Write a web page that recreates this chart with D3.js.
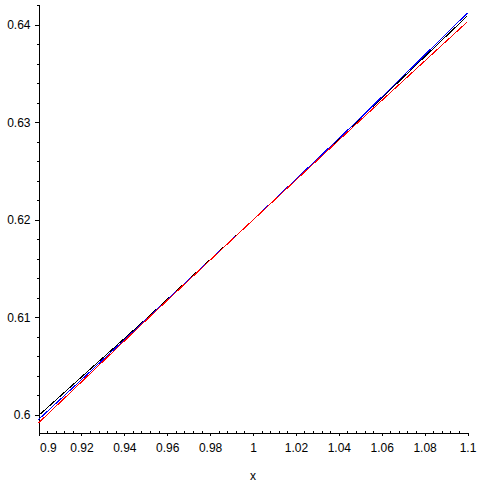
<!DOCTYPE html>
<html>
<head>
<meta charset="utf-8">
<script src="https://cdn.jsdelivr.net/npm/d3@7"></script>
<style>
  body { margin: 0; background: #fff; }
  text { font-family: "Liberation Sans", Arial, sans-serif; font-size: 12px; fill: #000; }
</style>
</head>
<body>
<div id="chart"></div>
<script>
// values
const xValues = [0.9, 0.95, 1.0, 1.05, 1.1];
const blackValues = [0.59993, 0.60982, 0.62, 0.6304, 0.64095];
const blueValues = [0.59952, 0.60975, 0.62, 0.63045, 0.64123];
const redValues = [0.59918, 0.60968, 0.62, 0.63022, 0.64034];

const xTicks = [0.9, 0.92, 0.94, 0.96, 0.98, 1, 1.02, 1.04, 1.06, 1.08, 1.1];
const xTickLabels = ['0.9', '0.92', '0.94', '0.96', '0.98', '1', '1.02', '1.04', '1.06', '1.08', '1.1'];
const yTicks = [0.6, 0.61, 0.62, 0.63, 0.64];
const yTickLabels = ['0.6', '0.61', '0.62', '0.63', '0.64'];

const width = 484;
const height = 484;

const svg = d3.select('#chart')
  .append('svg')
  .attr('width', width)
  .attr('height', height);

// Scales
const xScale = d3.scaleLinear()
  .domain([0.9, 1.1])
  .range([38.5, 467.5]);

const yScale = d3.scaleLinear()
  .domain([0.5982, 0.6421])
  .range([432.5, 4.5]);

// minor tick positions
const xMinor = d3.range(0.9, 1.1001, 0.004).filter(v => Math.abs(Math.round(v * 50) - v * 50) > 1e-6);
const yMinor = d3.range(0.6, 0.6421, 0.002).filter(v => Math.abs(Math.round(v * 100) - v * 100) > 1e-6);

// x axis
const xAxis = svg.append('g')
  .attr('transform', `translate(0,${yScale.range()[0]})`)
  .call(d3.axisBottom(xScale)
    .tickValues(xTicks)
    .tickSize(3)
    .tickSizeOuter(0)
    .tickPadding(8)
    .tickFormat((d, i) => xTickLabels[i]));

xAxis.selectAll('text')
  .attr('dy', '0.71em')
  .style('font-size', '12px')
  .style('font-family', '"Liberation Sans", Arial, sans-serif');

// first label shifted right of the y axis
xAxis.selectAll('.tick text')
  .filter((d, i) => i === 0)
  .attr('text-anchor', 'start')
  .attr('x', 1);

svg.append('g')
  .attr('transform', `translate(0,${yScale.range()[0]})`)
  .call(d3.axisBottom(xScale)
    .tickValues(xMinor)
    .tickSize(-2)
    .tickFormat(''))
  .select('.domain').remove();

// y axis
const yAxis = svg.append('g')
  .attr('transform', `translate(${xScale.range()[0]},0)`)
  .call(d3.axisLeft(yScale)
    .tickValues(yTicks)
    .tickSize(4)
    .tickSizeOuter(0)
    .tickPadding(4)
    .tickFormat((d, i) => yTickLabels[i]));

yAxis.selectAll('text')
  .style('font-size', '12px')
  .style('font-family', '"Liberation Sans", Arial, sans-serif');

svg.append('g')
  .attr('transform', `translate(${xScale.range()[0]},0)`)
  .call(d3.axisLeft(yScale)
    .tickValues(yMinor)
    .tickSize(2)
    .tickFormat(''))
  .select('.domain').remove();

svg.selectAll('.domain, .tick line')
  .attr('stroke', '#000')
  .attr('shape-rendering', 'crispEdges');

// x axis title
svg.append('text')
  .attr('x', 253)
  .attr('y', 480)
  .attr('text-anchor', 'middle')
  .text('x');

// the three curves
const line = d3.line()
  .x((d, i) => xScale(xValues[i]))
  .y(d => yScale(d));

const series = [
  { values: blackValues, color: '#000000' },
  { values: blueValues, color: '#0000ff' },
  { values: redValues, color: '#ff0000' }
];

svg.selectAll('.curve')
  .data(series)
  .enter()
  .append('path')
  .attr('class', 'curve')
  .attr('d', d => line(d.values))
  .attr('fill', 'none')
  .attr('stroke', d => d.color)
  .attr('stroke-width', 1)
  .attr('shape-rendering', 'crispEdges');
</script>
</body>
</html>
